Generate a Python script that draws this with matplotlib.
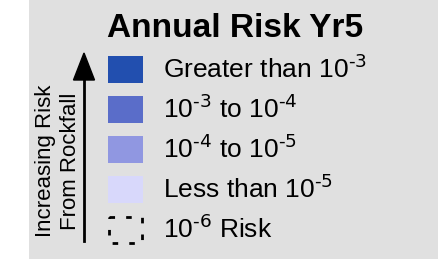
import matplotlib.pyplot as plt
from matplotlib.patches import Rectangle, FancyArrow

plt.rcParams['font.family'] = ['Liberation Sans', 'DejaVu Sans']

# legend content
title = 'Annual Risk Yr5'
labels = [r'Greater than 10$^{\text{-3}}$',
          r'10$^{\text{-3}}$ to 10$^{\text{-4}}$',
          r'10$^{\text{-4}}$ to 10$^{\text{-5}}$',
          r'Less than 10$^{\text{-5}}$',
          r'10$^{\text{-6}}$ Risk']
colors = ['#224faf', '#5a6dc9', '#9097e1', '#d8d8fb', None]
side_text = ['Increasing Risk', 'From Rockfall']

fig = plt.figure(figsize=(4.38, 2.6), dpi=100)
ax = fig.add_axes([0, 0, 1, 1])
ax.set_xlim(0, 438)
ax.set_ylim(260, 0)
ax.axis('off')

ax.add_patch(Rectangle((29, 0), 409, 259, facecolor='#e0e0e0', edgecolor='none'))

ax.text(235, 37, title, ha='center', va='baseline', fontsize=24, fontweight='bold')

for i, (lab, c) in enumerate(zip(labels, colors)):
    y0 = 56 + 40 * i
    if c is None:
        ax.add_patch(Rectangle((109, y0 + 1), 33, 26, facecolor='none', edgecolor='black',
                               linewidth=2, linestyle=(0, (2, 4))))
    else:
        ax.add_patch(Rectangle((108, y0), 35, 27, facecolor=c, edgecolor='none'))
    ax.text(163, y0 + 22, lab, ha='left', va='baseline', fontsize=19)

# arrow
ax.plot([84, 84], [241, 78], color='black', linewidth=2)
ax.add_patch(FancyArrow(84, 80, 0, -27, width=0.1, head_width=21, head_length=27,
                        length_includes_head=True, color='black'))

ax.text(46, 161, side_text[0], rotation=90, ha='center', va='center', fontsize=16)
ax.text(70, 161, side_text[1], rotation=90, ha='center', va='center', fontsize=16)

fig.savefig('out.png', dpi=100)
